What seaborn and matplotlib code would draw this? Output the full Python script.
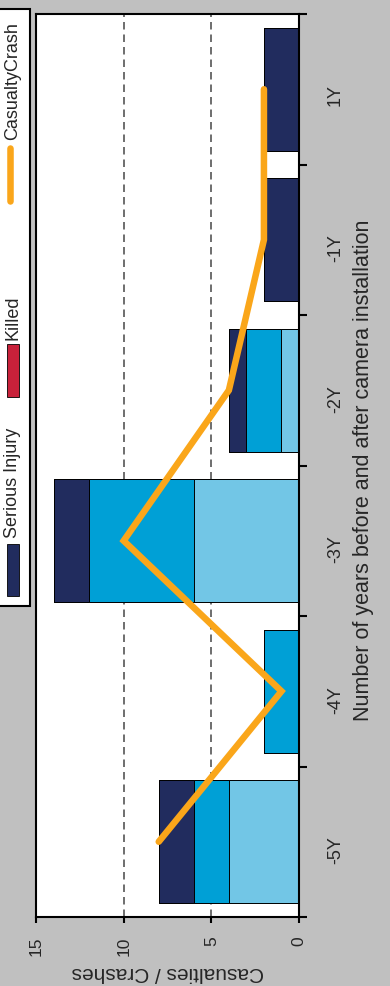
import numpy as np
import pandas as pd
import matplotlib.pyplot as plt
import seaborn as sns
from matplotlib.patches import Rectangle
from matplotlib.lines import Line2D

# Data (years relative to camera installation)
years = ['-5Y', '-4Y', '-3Y', '-2Y', '-1Y', '1Y']
minor_injury = [4, 0, 6, 1, 0, 0]
other_injury = [2, 2, 6, 2, 0, 0]
serious_injury = [2, 0, 2, 1, 2, 2]
killed = [0, 0, 0, 0, 0, 0]
casualty_crash = [8, 1, 10, 4, 2, 2]

navy = '#212C5E'
mid_blue = '#00A0D6'
light_blue = '#72C6E6'
red = '#C8213A'
orange = '#FAA61A'
bg = '#C0C0C0'

df = pd.DataFrame({'year': years, 'minor': minor_injury, 'other': other_injury,
                   'serious': serious_injury, 'killed': killed})
df['c1'] = df['minor']
df['c2'] = df['c1'] + df['other']
df['c3'] = df['c2'] + df['serious']
df['c4'] = df['c3'] + df['killed']

sns.set_style('white')
plt.rcParams['font.family'] = ['Liberation Sans', 'DejaVu Sans']

W, H = 390, 987
fx = lambda px: px / W
fy = lambda py: 1 - py / H

fig = plt.figure(figsize=(W / 100, H / 100), dpi=100, facecolor=bg)
ax = fig.add_axes([fx(36), fy(918), fx(299) - fx(36), fy(15) - fy(918)])
ax.set_facecolor('white')

order = years[::-1]  # first category on top
# stacked bars drawn as overlapping cumulative totals
for col, c in [('c4', red), ('c3', navy), ('c2', mid_blue), ('c1', light_blue)]:
    sns.barplot(data=df, x=col, y='year', order=order, color=c, width=0.82,
                saturation=1, edgecolor='black', linewidth=0.7, ax=ax, zorder=2)

pos = [order.index(y) for y in years]
ax.plot(casualty_crash, pos, color=orange, lw=4.7, solid_capstyle='round',
        solid_joinstyle='miter', zorder=3)

for v in [5, 10]:
    ax.axvline(v, color='#555555', lw=1.2, ls=(0, (4.5, 3)), zorder=0.5)

ax.set_xlim(15, 0)
ax.set_ylim(5.5, -0.5)
ax.set_xticks([0, 5, 10, 15])
ax.set_xlabel('')
ax.set_ylabel('')
ax.tick_params(axis='x', bottom=True, labelrotation=90, length=4.5, width=1.5,
               pad=9, labelsize=12.5, color='black')
ax.yaxis.tick_right()
ax.tick_params(axis='y', which='major', length=0, pad=20, labelrotation=90,
               labelsize=13)
ax.set_yticks(np.arange(-0.5, 6, 1), minor=True)
ax.tick_params(axis='y', which='minor', right=True, left=False, length=6,
               width=1.5, color='black')
for sp in ax.spines.values():
    sp.set_visible(True)
    sp.set_color('black')
    sp.set_linewidth(1.5)

fig.text(fx(364), fy(470), 'Number of years before and after camera installation',
         rotation=90, ha='center', va='center', fontsize=15.5)
fig.text(fx(168), fy(973), 'Casualties / Crashes', rotation=180,
         ha='center', va='center', fontsize=15)

# legend (partly outside the figure on the left)
fig.add_artist(Rectangle((fx(-20), fy(607)), fx(30) - fx(-20), fy(10) - fy(607),
                         transform=fig.transFigure, facecolor='white',
                         edgecolor='black', lw=1.5, zorder=5))
legend_items = [('Serious Injury', navy, 545, 597, 538),
                ('Killed', red, 345, 398, 340)]
for label, c, y0, y1, ty in legend_items:
    fig.add_artist(Rectangle((fx(7), fy(y1)), fx(19) - fx(7), fy(y0) - fy(y1),
                             transform=fig.transFigure, facecolor=c,
                             edgecolor='black', lw=0.6, zorder=6))
    fig.text(fx(13), fy(ty), label, rotation=90, ha='center', va='bottom',
             fontsize=13, zorder=6)
fig.add_artist(Line2D([fx(10), fx(10)], [fy(202), fy(149)], transform=fig.transFigure,
                      color=orange, lw=4.7, solid_capstyle='round', zorder=6))
fig.text(fx(13), fy(140), 'CasualtyCrash', rotation=90, ha='center', va='bottom',
         fontsize=13, zorder=6)

fig.savefig('out.png', dpi=100, facecolor=bg)
